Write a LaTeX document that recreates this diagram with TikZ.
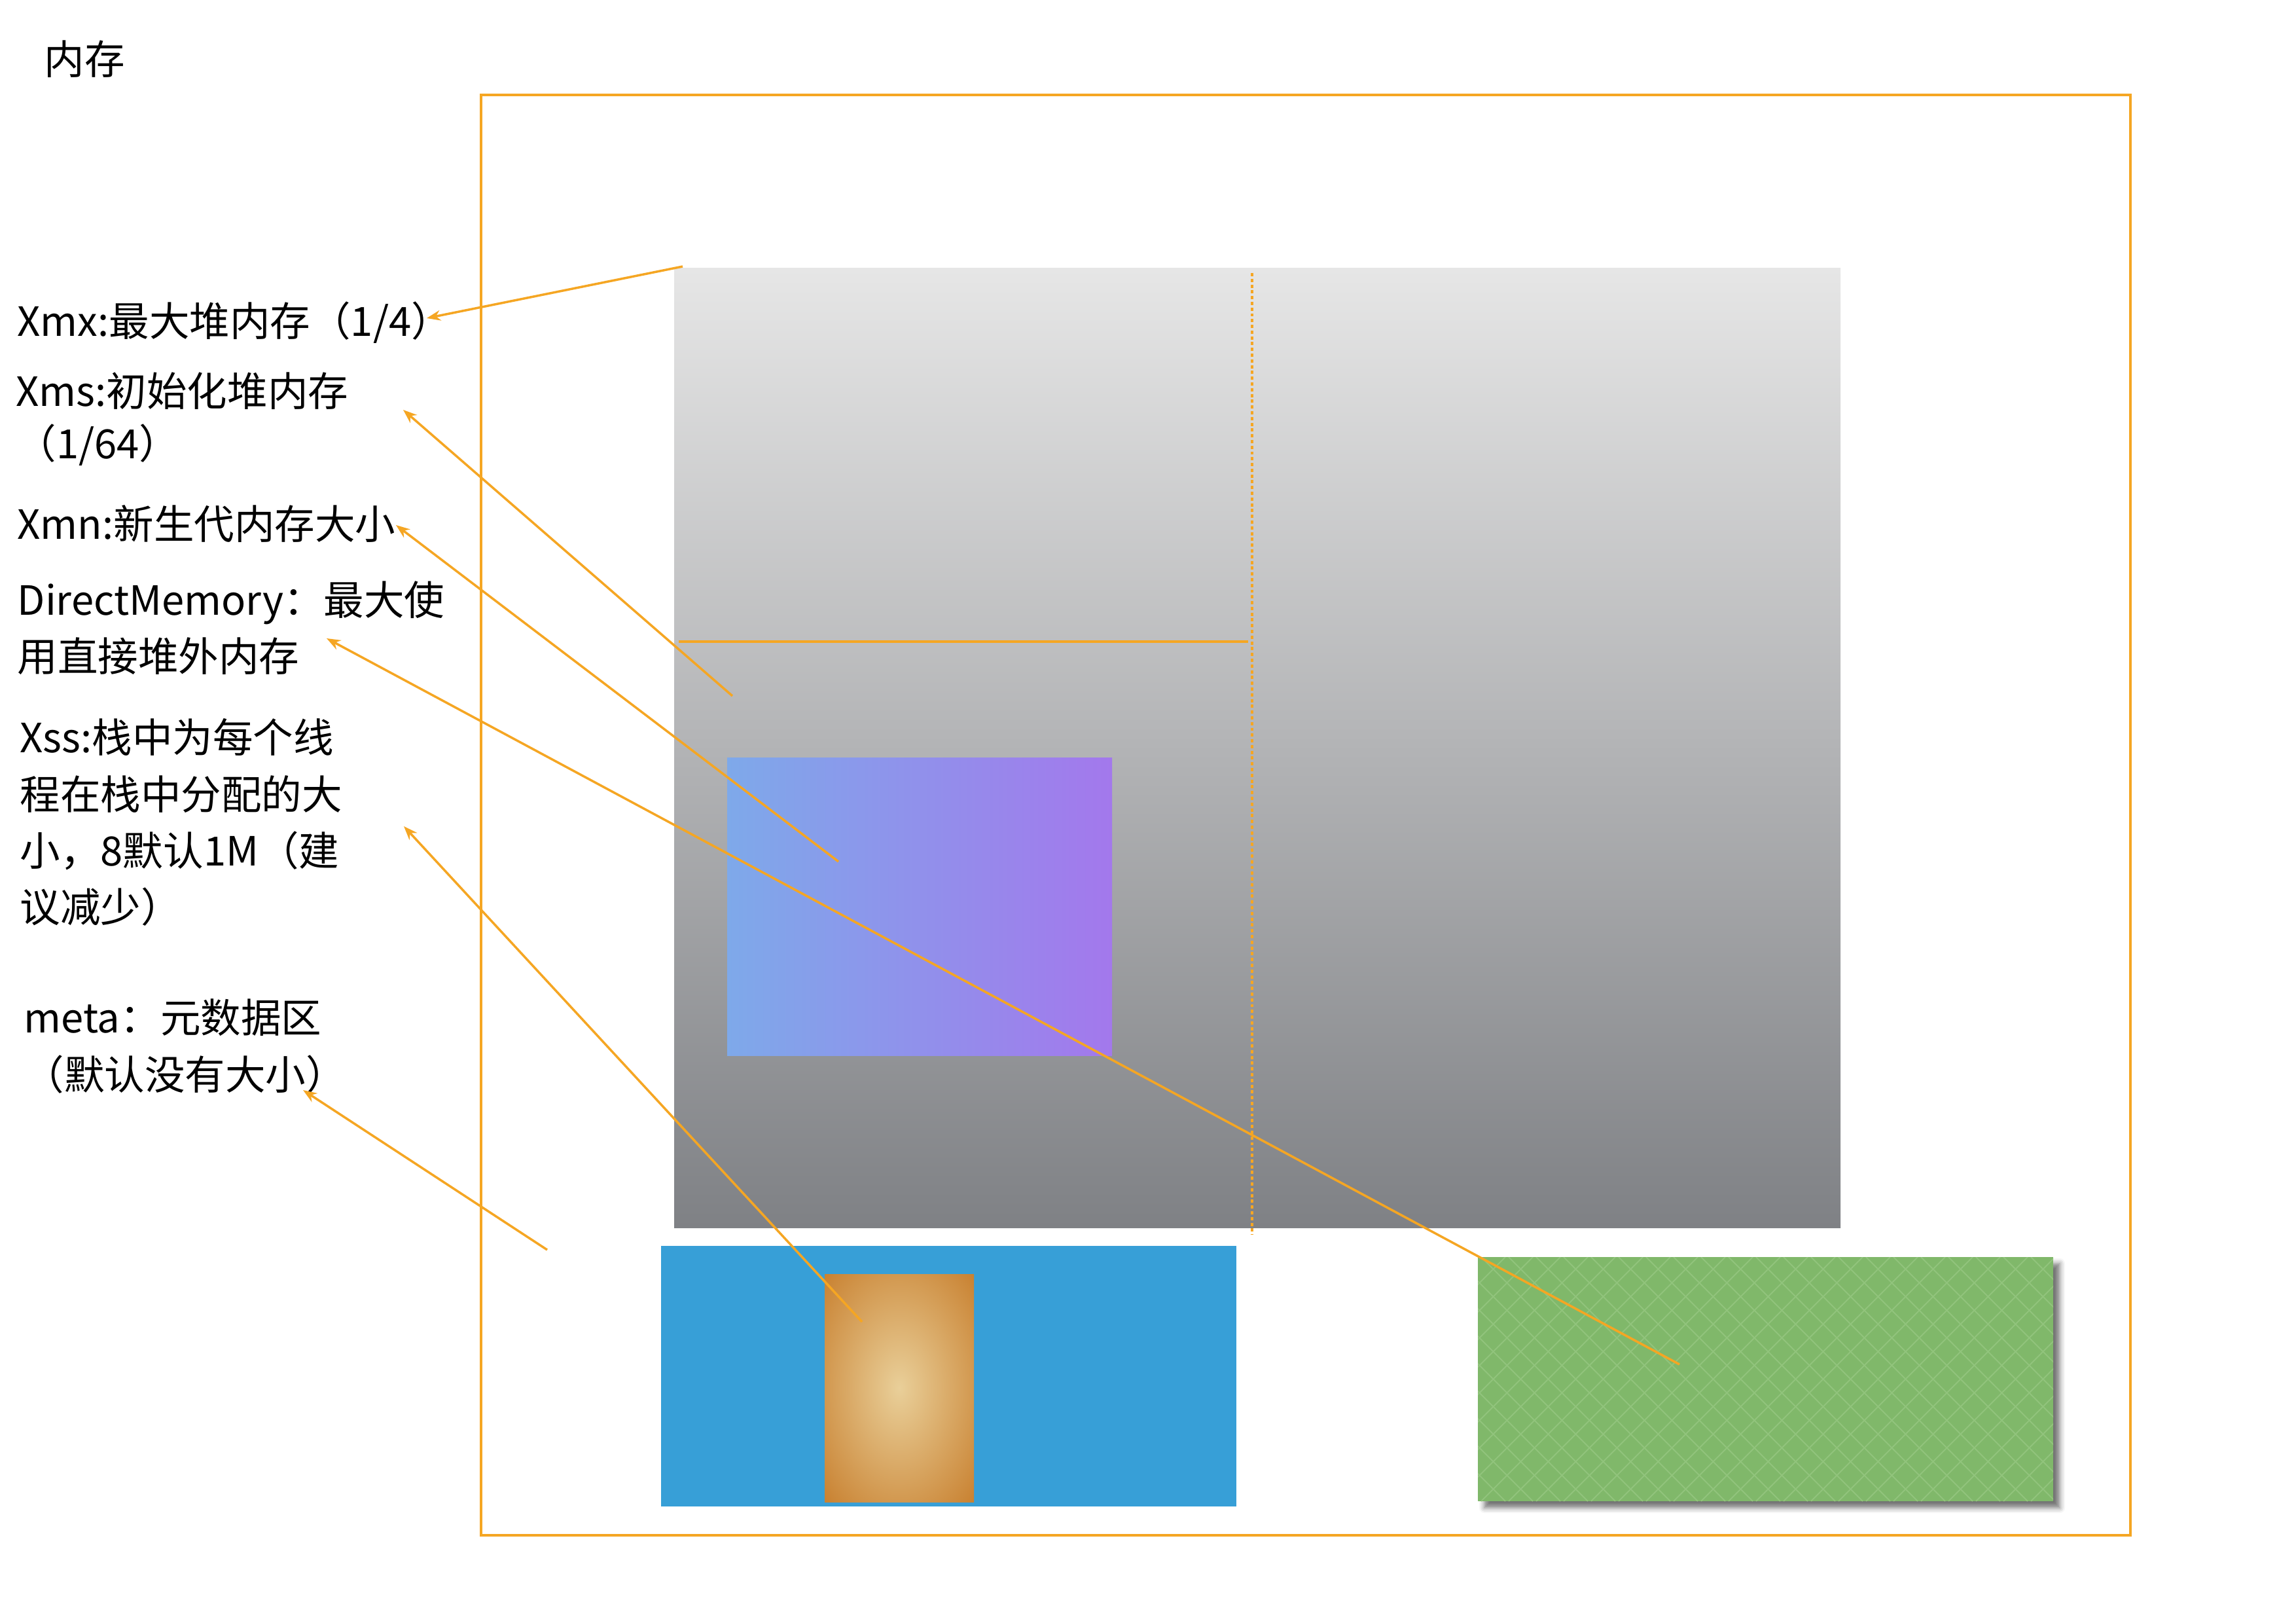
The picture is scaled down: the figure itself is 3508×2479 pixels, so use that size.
\documentclass[tikz,border=0pt]{standalone}
\usepackage{fontspec}
\setmainfont{Noto Sans CJK SC}
\usetikzlibrary{arrows.meta}
\usetikzlibrary{shadows.blur}

\definecolor{lineorange}{RGB}{245,166,35}
\definecolor{heaptop}{RGB}{230,230,230}
\definecolor{heapbot}{RGB}{127,129,133}
\definecolor{edenleft}{RGB}{126,169,234}
\definecolor{edenright}{RGB}{163,120,236}
\definecolor{stackblue}{RGB}{55,159,215}
\definecolor{glowin}{RGB}{233,207,153}
\definecolor{glowout}{RGB}{200,128,47}
\definecolor{metagreen}{RGB}{128,184,106}
\definecolor{metadiamond}{RGB}{145,196,124}

\pgfdeclareradialshading{glow}{\pgfpoint{0bp}{0bp}}{color(0bp)=(glowin); color(36bp)=(glowout); color(50bp)=(glowout)}

\begin{document}
\begin{tikzpicture}[x=0.01cm,y=-0.01cm,
  lbl/.style={anchor=west,inner sep=0pt,align=left,font=\fontsize{17.5}{24.5}\selectfont},
  conn/.style={draw=lineorange,line width=1pt,-{Stealth[length=6pt,width=4.5pt]}},
  thinline/.style={draw=lineorange,line width=1pt},
  diamondline/.style={draw=metadiamond,line width=0.55pt}]
\useasboundingbox (0,0) rectangle (3508,2479);

\draw[lineorange,line width=1.1pt] (735,145) rectangle (3255,2345);

\shade[top color=heaptop,bottom color=heapbot] (1030,410) rectangle (2812,1875);
\draw[thinline,dash pattern=on 1.4pt off 1.1pt] (1913,417) -- (1913,1886);
\draw[thinline] (1037,980) -- (1907,980);
\shade[left color=edenleft,right color=edenright] (1111,1157) rectangle (1699,1612);

\fill[stackblue] (1010,1903) rectangle (1889,2301);
\shade[shading=glow] (1260,1946) rectangle (1488,2294);

\fill[metagreen,blur shadow={shadow xshift=0.1cm,shadow yshift=-0.1cm,shadow blur radius=0.08cm,shadow opacity=55}]
  (2258,1920) rectangle (3137,2293);
\begin{scope}
  \clip (2258,1920) rectangle (3137,2293);
  \foreach \k in {0,...,30}
  {
    \draw[diamondline] ({1885+42*\k},1920) -- ++(373,373);
    \draw[diamondline] ({2258+42*\k},1920) -- ++(-373,373);
  }
\end{scope}

\node[lbl] (title) at (67,90) {内存};
\node[lbl] (xmx) at (26,493) {Xmx:最大堆内存（1/4）};
\node[lbl,font=\fontsize{17.5}{22.8}\selectfont] (xms) at (24,640) {Xms:初始化堆内存\\（1/64）};
\node[lbl] (xmn) at (26,800) {Xmn:新生代内存大小};
\node[lbl] (direct) at (26,959) {DirectMemory：最大使\\用直接堆外内存};
\node[lbl] (xss) at (30,1256) {Xss:栈中为每个线\\程在栈中分配的大\\小，8默认1M（建\\议减少）};
\node[lbl] (meta) at (36,1598) {meta：元数据区\\（默认没有大小）};

\coordinate (mxFrom) at (1043,407);
\coordinate (mxTip) at (652,486);
\coordinate (msFrom) at (1119,1063);
\coordinate (msTip) at (616,626);
\coordinate (mnFrom) at (1281,1316);
\coordinate (mnTip) at (605,802);
\coordinate (dmFrom) at (2566,2084);
\coordinate (dmTip) at (499,975);
\coordinate (ssFrom) at (1317,2019);
\coordinate (ssTip) at (617,1262);
\coordinate (mtFrom) at (836,1909);
\coordinate (mtTip) at (463,1665);

\foreach \Src/\Dst in {mxFrom/mxTip,msFrom/msTip,mnFrom/mnTip,dmFrom/dmTip,ssFrom/ssTip,mtFrom/mtTip}
{
  \draw[conn] (\Src) -- (\Dst);
}
\end{tikzpicture}
\end{document}
